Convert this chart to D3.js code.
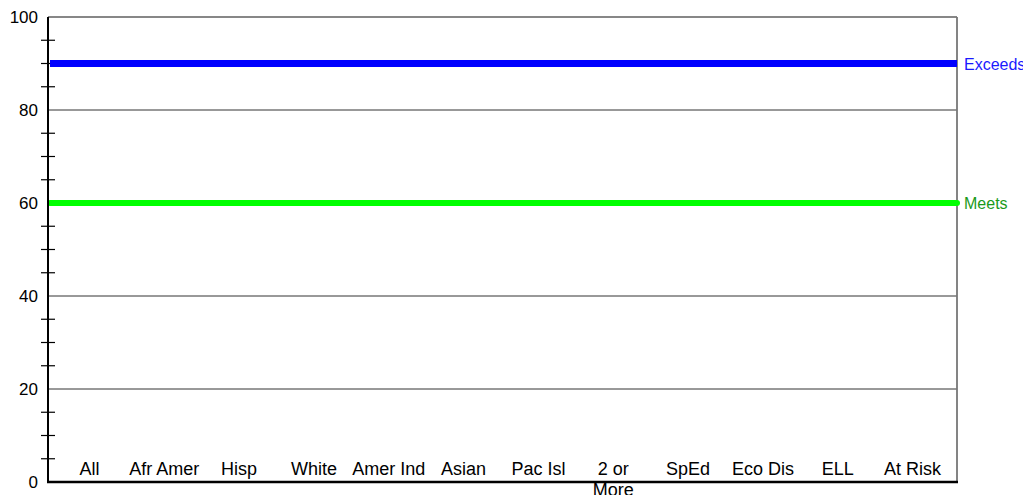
<!DOCTYPE html>
<html>
<head>
<meta charset="utf-8">
<script src="https://cdn.jsdelivr.net/npm/d3@7"></script>
<style>
  body { margin: 0; background: #fff; }
  svg text { font-family: "Liberation Sans", Arial, sans-serif; }
</style>
</head>
<body>
<div id="chart"></div>
<script>
const categories = ['All', 'Afr Amer', 'Hisp', 'White', 'Amer Ind', 'Asian', 'Pac Isl', '2 or\nMore', 'SpEd', 'Eco Dis', 'ELL', 'At Risk'];
const majorTicks = [0, 20, 40, 60, 80, 100];
const minorTicks = [5, 10, 15, 25, 30, 35, 45, 50, 55, 65, 70, 75, 85, 90, 95];
const targetNames = ['Exceeds', 'Meets'];
const targetValues = [90, 60];
const targetColors = ['#0000ff', '#00ff00'];
const targetLabelColors = ['#1a1aff', '#1a9a1a'];

const width = 1023;
const height = 495;
const plotLeft = 48, plotRight = 957, plotTop = 17, plotBottom = 482;

const svg = d3.select('#chart').append('svg').attr('width', width).attr('height', height);

const y = d3.scaleLinear().domain([0, 100]).range([plotBottom, plotTop]);
const x = d3.scaleBand().domain(categories).range([52, 950]);

// grid lines
svg.append('g')
  .selectAll('line')
  .data(majorTicks.filter(d => d > 0 && d < 100))
  .enter()
  .append('line')
  .attr('x1', plotLeft).attr('x2', plotRight)
  .attr('y1', d => y(d)).attr('y2', d => y(d))
  .attr('stroke', '#333').attr('stroke-width', 1);

// frame
svg.append('line').attr('x1', plotLeft).attr('x2', plotRight).attr('y1', plotTop).attr('y2', plotTop)
  .attr('stroke', '#111').attr('stroke-width', 1.2);
svg.append('line').attr('x1', plotRight).attr('x2', plotRight).attr('y1', plotTop).attr('y2', plotBottom)
  .attr('stroke', '#777').attr('stroke-width', 1.8);

// minor ticks
svg.append('g')
  .selectAll('line')
  .data(minorTicks)
  .enter()
  .append('line')
  .attr('x1', 41).attr('x2', 55)
  .attr('y1', d => y(d)).attr('y2', d => y(d))
  .attr('stroke', '#000').attr('stroke-width', 1.2);

// y labels
svg.append('g')
  .selectAll('text')
  .data(majorTicks)
  .enter()
  .append('text')
  .attr('x', 38)
  .attr('y', d => y(d) + 6)
  .attr('text-anchor', 'end')
  .attr('font-size', 17)
  .text(d => d);

// target lines
targetValues.forEach((v, i) => {
  svg.append('line')
    .attr('x1', plotLeft + 2).attr('x2', plotRight)
    .attr('y1', y(v)).attr('y2', y(v))
    .attr('stroke', targetColors[i])
    .attr('stroke-width', i === 0 ? 7 : 6)
    .attr('stroke-linecap', i === 0 ? 'butt' : 'round');
  svg.append('text')
    .attr('x', plotRight + 7)
    .attr('y', y(v) + 6)
    .attr('fill', targetLabelColors[i])
    .attr('font-size', 16)
    .text(targetNames[i]);
});

// axes lines
svg.append('line').attr('x1', plotLeft).attr('x2', plotLeft).attr('y1', plotTop).attr('y2', plotBottom + 1)
  .attr('stroke', '#000').attr('stroke-width', 2);
svg.append('line').attr('x1', plotLeft - 1).attr('x2', plotRight + 1).attr('y1', plotBottom).attr('y2', plotBottom)
  .attr('stroke', '#000').attr('stroke-width', 2.5);

// category labels
const catLabels = svg.append('g')
  .selectAll('text')
  .data(categories)
  .enter()
  .append('text')
  .attr('x', d => x(d) + x.bandwidth() / 2)
  .attr('y', 475)
  .attr('text-anchor', 'middle')
  .attr('font-size', 18);

catLabels.selectAll('tspan')
  .data(d => d.split('\n').map((t, i) => ({ t, i })))
  .enter()
  .append('tspan')
  .attr('x', function () { return d3.select(this.parentNode).attr('x'); })
  .attr('dy', d => (d.i === 0 ? 0 : 21))
  .text(d => d.t);
</script>
</body>
</html>
